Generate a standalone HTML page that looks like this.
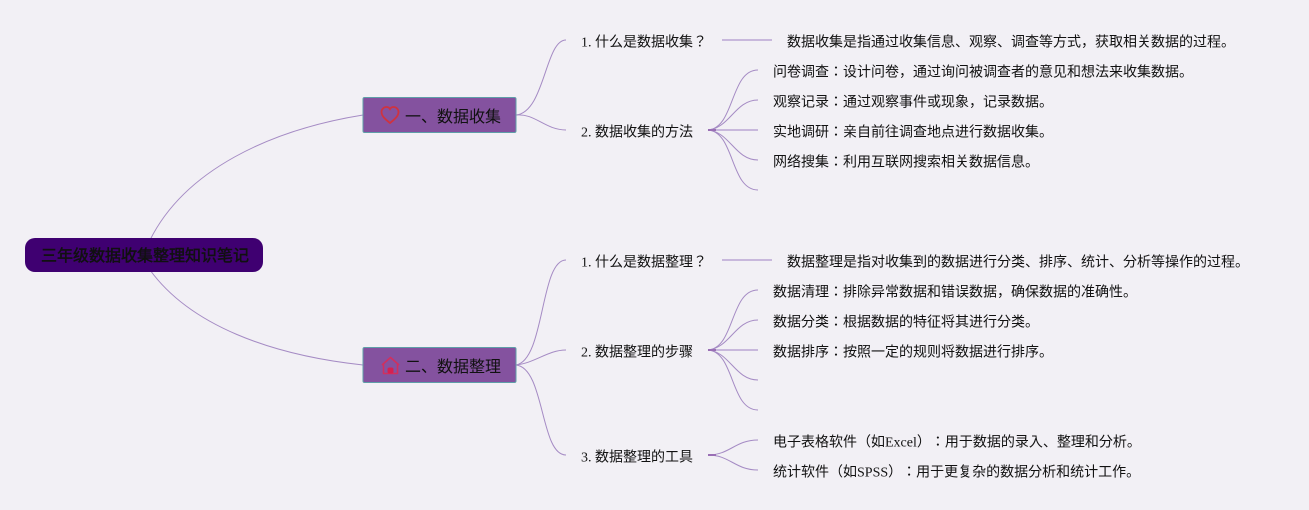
<!DOCTYPE html>
<html lang="ja">
<head>
<meta charset="utf-8">
<style>
html,body{margin:0;padding:0;background:#f2f0f5;}
svg{display:block;}
text{font-family:"Liberation Serif","Noto Sans CJK JP",sans-serif;fill:#111;font-size:14px;text-spacing-trim:space-all;}
.b{font-size:16px;}
</style>
</head>
<body>
<svg width="1309" height="510" viewBox="0 0 1309 510" xmlns="http://www.w3.org/2000/svg">
<rect width="1309" height="510" fill="#f2f0f5"/>
<g fill="none" stroke="#a58bc4" stroke-width="1">
<path d="M150 240C185 170 270 130 363 115"/>
<path d="M150 270C190 325 270 355 363 365"/>
<path d="M516 115C545 112 545 40 566 40"/>
<path d="M516 115C535 113 545 130 566 130"/>
<path d="M516 365C545 360 540 260 566 260"/>
<path d="M516 365C535 363 548 350 566 350"/>
<path d="M516 365C545 368 540 455 566 455"/>
<path d="M722 40H772" stroke="#b9a6d3" stroke-width="1.4"/>
<path d="M722 260H772" stroke="#b9a6d3" stroke-width="1.4"/>
<path d="M708 130C735 128 730 70 758 70"/>
<path d="M708 130C730 128 735 100 758 100"/>
<path d="M708 130H758" stroke="#b9a6d3" stroke-width="1.4"/>
<path d="M708 130C730 132 735 160 758 160"/>
<path d="M708 130C735 132 730 190 758 190"/>
<path d="M708 350C735 348 730 290 758 290"/>
<path d="M708 350C730 348 735 320 758 320"/>
<path d="M708 350H758" stroke="#b9a6d3" stroke-width="1.4"/>
<path d="M708 350C730 352 735 380 758 380"/>
<path d="M708 350C735 352 730 410 758 410"/>
<path d="M708 455C730 455 735 440 758 440"/>
<path d="M708 455C730 455 735 470 758 470"/>
<path d="M708 130H716M708 350H716M708 455H716" stroke="#9a6fb5" stroke-width="2"/>
</g>
<rect x="25" y="238" width="238" height="34" rx="10" fill="#3f0071"/>
<text class="b" x="41" y="261" stroke="#111" stroke-width=".5">三年级数据收集整理知识笔记</text>
<rect x="363" y="97.500" width="153" height="35" rx="1.500" fill="#84529f" stroke="#5f9ea8" stroke-width="1"/>
<rect x="363" y="347.500" width="153" height="35" rx="1.500" fill="#84529f" stroke="#5f9ea8" stroke-width="1"/>
<path d="M390 123C385 119 381.500 116 381.500 112C381.500 109 384 107 386.500 107C388 107 389.300 107.800 390 109C390.700 107.800 392 107 393.500 107C396 107 398.500 109 398.500 112C398.500 116 395 119 390 123Z" fill="none" stroke="#cf3340" stroke-width="1.800"/>
<path d="M382 365L390.500 357.500L399 365M383.500 364V373.500H397.500V364" fill="none" stroke="#d0305f" stroke-width="1.600" stroke-linejoin="round"/>
<rect x="387.500" y="367.500" width="6" height="6" rx="2" fill="#d62050"/>
<text class="b" x="405" y="122">一、数据收集</text>
<text class="b" x="405" y="372">二、数据整理</text>
<text x="581" y="46.500">1. 什么是数据收集？</text>
<text x="581" y="136.500">2. 数据收集的方法</text>
<text x="581" y="266.500">1. 什么是数据整理？</text>
<text x="581" y="356.500">2. 数据整理的步骤</text>
<text x="581" y="461.500">3. 数据整理的工具</text>
<text x="787" y="46.500">数据收集是指通过收集信息、观察、调查等方式，获取相关数据的过程。</text>
<text x="773" y="76.500">问卷调查：设计问卷，通过询问被调查者的意见和想法来收集数据。</text>
<text x="773" y="106.500">观察记录：通过观察事件或现象，记录数据。</text>
<text x="773" y="136.500">实地调研：亲自前往调查地点进行数据收集。</text>
<text x="773" y="166.500">网络搜集：利用互联网搜索相关数据信息。</text>
<text x="787" y="266.500">数据整理是指对收集到的数据进行分类、排序、统计、分析等操作的过程。</text>
<text x="773" y="296.500">数据清理：排除异常数据和错误数据，确保数据的准确性。</text>
<text x="773" y="326.500">数据分类：根据数据的特征将其进行分类。</text>
<text x="773" y="356.500">数据排序：按照一定的规则将数据进行排序。</text>
<text x="773" y="446.500">电子表格软件（如Excel）：用于数据的录入、整理和分析。</text>
<text x="773" y="476.500">统计软件（如SPSS）：用于更复杂的数据分析和统计工作。</text>
</svg>
</body>
</html>
